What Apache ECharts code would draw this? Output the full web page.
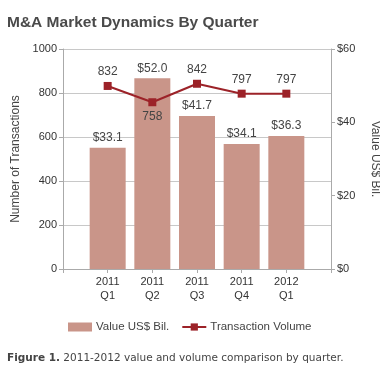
<!DOCTYPE html>
<html><head><meta charset="utf-8">
<script src="https://cdn.jsdelivr.net/npm/echarts@6/dist/echarts.min.js"></script>
<style>html,body{margin:0;padding:0;background:#fff}#c{width:380px;height:390px}</style>
</head><body><div id="c"></div>
<script>
const categories = ['2011\nQ1', '2011\nQ2', '2011\nQ3', '2011\nQ4', '2012\nQ1'];
const valueBil = [33.1, 52.0, 41.7, 34.1, 36.3];
const transactions = [832, 758, 842, 797, 797];
const leftTicks = [0, 200, 400, 600, 800, 1000];
const rightTicks = [0, 20, 40, 60];

// pad one empty slot on each side (axis spans half-slot beyond the outer bars)
const cats = [''].concat(categories, ['']);
const barData = [null].concat(valueBil, [null]);
const lineData = [null].concat(transactions.map((v, i) => ({
  value: v,
  label: { position: i === 1 ? 'bottom' : 'top' }
})), [null]);

const txt = '#444';
const chart = echarts.init(document.getElementById('c'));
chart.setOption({
  backgroundColor: '#fff',
  animation: false,
  title: [{
    text: 'M&A Market Dynamics By Quarter',
    left: 2, top: 10,
    textStyle: { fontFamily: 'Liberation Sans', fontWeight: 'bold', fontSize: 15.5, color: '#4a4a4a' }
  }, {
    text: '{b|Figure 1.} {n|2011-2012 value and volume comparison by quarter.}',
    left: 2, top: 348,
    textStyle: {
      fontFamily: 'DejaVu Sans', fontSize: 10.5, fontWeight: 'normal', color: '#444',
      rich: {
        b: { fontFamily: 'DejaVu Sans', fontWeight: 'bold', fontSize: 10.5, color: '#444' },
        n: { fontFamily: 'DejaVu Sans', fontWeight: 'normal', fontSize: 10.5, color: '#444' }
      }
    }
  }],
  legend: {
    top: 316, left: 63,
    itemWidth: 24, itemHeight: 9, itemGap: 12,
    textStyle: { fontFamily: 'Liberation Sans', fontSize: 11.5, color: txt, padding: [0, 0, 0, -1] },
    data: [{ name: 'Value US$ Bil.', icon: 'rect' }, { name: 'Transaction Volume' }]
  },
  grid: { left: 63, right: 49, top: 49, bottom: 121, containLabel: false, outerBoundsMode: 'none' },
  xAxis: {
    type: 'category', data: cats, boundaryGap: false,
    axisLine: { lineStyle: { color: '#aaa' } },
    axisTick: { lineStyle: { color: '#aaa' }, length: 4 },
    axisLabel: { fontFamily: 'Liberation Sans', fontSize: 11, color: '#333', lineHeight: 14, margin: 6, interval: 0 }
  },
  yAxis: [{
    type: 'value', min: 0, max: 1000, interval: 200,
    name: 'Number of Transactions', nameLocation: 'middle', nameGap: 40, nameRotate: 90,
    nameTextStyle: { fontFamily: 'Liberation Sans', fontSize: 12, color: txt },
    axisLine: { show: true, lineStyle: { color: '#aaa' } },
    axisTick: { show: true, length: 4, lineStyle: { color: '#aaa' } },
    axisLabel: { fontFamily: 'Liberation Sans', fontSize: 11, color: '#333', margin: 6, formatter: v => String(v) },
    splitLine: { show: true, lineStyle: { color: '#c8c8c8', width: 1 } }
  }, {
    type: 'value', min: 0, max: 60, interval: 20, position: 'right',
    name: 'Value US$ Bil.', nameLocation: 'middle', nameGap: 38, nameRotate: -90,
    nameTextStyle: { fontFamily: 'Liberation Sans', fontSize: 12, color: txt },
    axisLine: { show: true, lineStyle: { color: '#aaa' } },
    axisTick: { show: true, length: 4, lineStyle: { color: '#aaa' } },
    axisLabel: { fontFamily: 'Liberation Sans', fontSize: 11, color: '#333', margin: 6, formatter: v => '$' + v },
    splitLine: { show: false }
  }],
  series: [{
    name: 'Value US$ Bil.', type: 'bar', yAxisIndex: 1, data: barData, barWidth: 36,
    itemStyle: { color: '#c99589' },
    label: { show: true, position: 'top', distance: 4, fontFamily: 'Liberation Sans', fontSize: 12, color: txt,
      formatter: p => '$' + p.value.toFixed(1) }
  }, {
    name: 'Transaction Volume', type: 'line', yAxisIndex: 0, data: lineData,
    symbol: 'rect', symbolSize: 8, connectNulls: false,
    lineStyle: { color: '#9c2228', width: 2 },
    itemStyle: { color: '#9c2228' },
    label: { show: true, distance: 4, fontFamily: 'Liberation Sans', fontSize: 12, color: txt }
  }]
});
</script></body></html>
